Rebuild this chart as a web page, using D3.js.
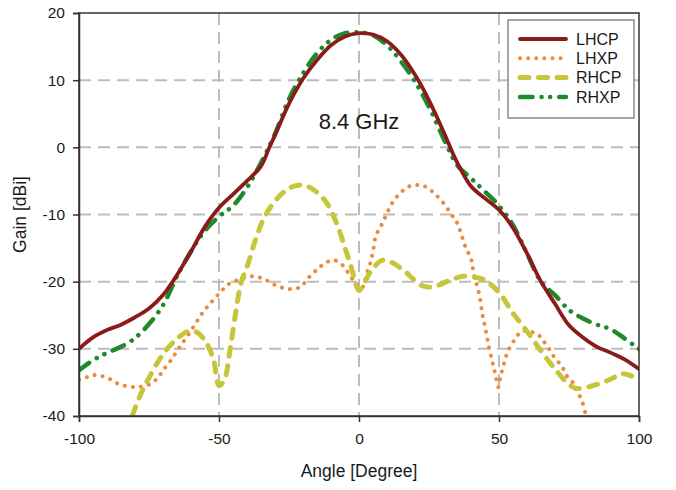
<!DOCTYPE html>
<html><head><meta charset="utf-8">
<script src="https://cdn.jsdelivr.net/npm/d3@7"></script>
<style>
html,body{margin:0;padding:0;background:#fff;}
svg{display:block;font-family:"Liberation Sans",Arial,sans-serif;}
</style></head>
<body><svg id="chart" width="676" height="490"></svg>
<script>
// ---- data (angle in degrees, gain in dBi) ----
const lhcpAngle = [-100,-95,-90,-85,-80,-75,-70,-65,-60,-55,-50,-45,-40,-35,-32,-30,-25,-20,-15,-10,-5,0,5,10,15,20,25,30,35,40,45,50,55,60,65,70,75,80,85,90,95,100];
const lhcpGain  = [-30,-28.3,-27.2,-26.4,-25.3,-24,-22,-19,-15.5,-11.8,-9,-7,-5,-2.8,0,1.8,6.5,10.2,13,15.2,16.5,17,16.8,15.8,13.8,10.8,7,2.5,-2.2,-5.8,-7.6,-9.3,-12,-15.8,-20,-23.3,-26.5,-28.3,-29.7,-30.6,-31.6,-33];

const lhxpAngle = [-100,-97,-94,-90,-86,-80,-75,-72,-70,-67,-64,-60,-56,-53,-50,-47,-43,-38,-34,-30,-25,-21,-18,-15,-12,-9,-6,-4,-2,0,1,2,3,4,5,6,8,10,12,15,18,21,24,27,30,33,35,38,40,41,43,44,45,46,47.5,48.6,49.8,50.4,51.5,52.7,54,56,58,61,64,66,68,70,72.5,74,76.5,78,79.5,81,82];
const lhxpGain  = [-34.6,-34.2,-33.9,-34.3,-35.2,-35.7,-35.3,-34.4,-33.2,-31.6,-29.7,-27.3,-24.7,-23.2,-21.8,-20.5,-19.7,-19.2,-19.6,-20.5,-21.1,-20.8,-19.4,-18.2,-17.2,-16.8,-17.5,-18.6,-19.8,-20.7,-21,-20,-18.5,-17.3,-15.5,-13.2,-11.6,-9.8,-8.2,-6.7,-5.8,-5.6,-5.9,-6.9,-8.2,-10,-11.2,-14.8,-16.6,-18.8,-22,-24.7,-26.7,-28.9,-31.7,-33.6,-35.7,-34.4,-32.6,-30.9,-29.7,-28.4,-27.4,-27.4,-27.9,-28.9,-30.1,-31.4,-32.6,-33.9,-35.1,-36.4,-37.6,-39.8,-41];

const rhcpAngle = [-83,-81,-78,-75,-70,-65,-61,-58,-55,-52,-50,-48,-46,-44,-42,-40,-37,-34,-30,-25,-21,-17,-12,-8,-5,-3,-1,0,1.5,3,5,8.5,12,17,22,26,32,37,42,45,50,55,60,65,70,75,78,85,90,94,97,100];
const rhcpGain  = [-42.5,-40,-36.8,-34.3,-30.8,-28.5,-27.4,-27.5,-28.8,-31.5,-35.5,-34.5,-30,-24.5,-20,-17.8,-13.8,-10.6,-8,-6.1,-5.6,-6.1,-8,-11.3,-15,-17.5,-20.5,-21.3,-20.5,-19.3,-18,-16.8,-17.2,-18.7,-20.5,-20.8,-19.9,-19.2,-19.4,-19.8,-21.6,-24.7,-27.4,-30.3,-33,-35.3,-35.9,-35.3,-34.5,-33.7,-34,-34.6];

const rhxpAngle = [-100,-95,-90,-85,-80,-75,-70,-65,-60,-55,-50,-45,-40,-35,-30,-25,-20,-15,-10,-5,0,5,10,15,20,25,30,35,40,45,50,55,60,65,70,75,80,85,90,95,100];
const rhxpGain  = [-33.2,-31.7,-30.6,-29.7,-28.4,-26.3,-23.5,-19.2,-15.5,-12.4,-10.3,-8.7,-6,-2.3,2,7.2,11,14,16,17,17.1,16.7,15.2,12.8,9.8,6,1.5,-2.6,-4.6,-6.6,-8.7,-11.6,-15.8,-20,-22,-24.2,-25.5,-26.4,-27.1,-28.5,-30];

const seriesNames = ["LHCP","LHXP","RHCP","RHXP"];
const xTicks = [-100,-50,0,50,100];
const yTicks = [20,10,0,-10,-20,-30,-40];
const xTitle = "Angle [Degree]";
const yTitle = "Gain [dBi]";
const annotation = "8.4 GHz";

// ---- styles ----
const styles = {
  LHCP: {color:"#8b1a1a", width:3.8, dash:null, cap:"round"},
  LHXP: {color:"#ef8a3a", width:4, dash:"0.1,8", cap:"round"},
  RHCP: {color:"#c6c63a", width:5, dash:"9,9.5", cap:"round"},
  RHXP: {color:"#1f8a2c", width:4.5, dash:"12.5,9,0.1,8.5,0.1,9", cap:"round"}
};

const svg = d3.select("#chart");
const m = {left:79, top:13, right:37, bottom:74};
const W = 676 - m.left - m.right, H = 490 - m.top - m.bottom;
const x = d3.scaleLinear().domain([-100,100]).range([0,W]);
const y = d3.scaleLinear().domain([-40,20]).range([H,0]);
const g = svg.append("g").attr("transform",`translate(${m.left},${m.top})`);

svg.append("defs").append("clipPath").attr("id","clip")
  .append("rect").attr("width",W).attr("height",H);

// grid
const grid = g.append("g");
grid.selectAll(".gy").data(yTicks.filter(t=>t>-40 && t<20)).join("line")
  .attr("x1",0).attr("x2",W).attr("y1",d=>y(d)).attr("y2",d=>y(d))
  .attr("stroke","#bdbdbd").attr("stroke-width",2).attr("stroke-dasharray","12,7");
grid.selectAll(".gx").data(xTicks.filter(t=>t>-100 && t<100)).join("line")
  .attr("y1",0).attr("y2",H).attr("x1",d=>x(d)).attr("x2",d=>x(d))
  .attr("stroke","#bdbdbd").attr("stroke-width",2).attr("stroke-dasharray","12,7");

// curves
const data = {
  LHCP: lhcpAngle.map((a,i)=>[a,lhcpGain[i]]),
  LHXP: lhxpAngle.map((a,i)=>[a,lhxpGain[i]]),
  RHCP: rhcpAngle.map((a,i)=>[a,rhcpGain[i]]),
  RHXP: rhxpAngle.map((a,i)=>[a,rhxpGain[i]])
};
const line = d3.line().x(d=>x(d[0])).y(d=>y(d[1])).curve(d3.curveCatmullRom.alpha(0.5));
const plot = g.append("g").attr("clip-path","url(#clip)");
["LHXP","RHCP","RHXP","LHCP"].forEach(k=>{
  const s = styles[k];
  plot.append("path").datum(data[k]).attr("d",line)
    .attr("fill","none").attr("stroke",s.color).attr("stroke-width",s.width)
    .attr("stroke-linecap",s.cap).attr("stroke-linejoin","round")
    .attr("stroke-dasharray",s.dash);
});

// frame
g.append("rect").attr("width",W).attr("height",H).attr("fill","none")
  .attr("stroke","#333").attr("stroke-width",1.5);

// axes
const fmt = d => String(d);
const xAxis = g.append("g").attr("transform",`translate(0,${H})`)
  .call(d3.axisBottom(x).tickValues(xTicks).tickSize(6).tickPadding(11).tickFormat(fmt));
const yAxis = g.append("g")
  .call(d3.axisLeft(y).tickValues(yTicks).tickSize(6).tickPadding(8).tickFormat(fmt));
[xAxis,yAxis].forEach(a=>{
  a.select(".domain").attr("stroke","#333").attr("stroke-width",1.5);
  a.selectAll(".tick line").attr("stroke","#333").attr("stroke-width",1.5);
  a.selectAll(".tick text").attr("fill","#1a1a1a").style("font-size","15.5px")
    .style("font-family","'Liberation Sans',Arial,sans-serif");
});
xAxis.selectAll(".tick text").attr("dy","0.71em");

// titles
svg.append("text").attr("x",m.left+W/2).attr("y",477).attr("text-anchor","middle")
  .style("font-size","17.5px").attr("fill","#1a1a1a").text(xTitle);
svg.append("text").attr("transform",`translate(26,${m.top+H/2}) rotate(-90)`)
  .attr("text-anchor","middle").style("font-size","17.5px").attr("fill","#1a1a1a").text(yTitle);

// annotation
g.append("text").attr("x",x(0)).attr("y",y(2.8)).attr("text-anchor","middle")
  .style("font-size","22px").attr("fill","#1a1a1a").text(annotation);

// legend
const lg = svg.append("g").attr("transform","translate(508,20)");
lg.append("rect").attr("width",126).attr("height",98).attr("fill","#fff")
  .attr("stroke","#8a8a8a").attr("stroke-width",1.5);
seriesNames.forEach((k,i)=>{
  const s = styles[k];
  const yy = 19 + i*19.3;
  lg.append("line").attr("x1",12).attr("x2",58).attr("y1",yy).attr("y2",yy)
    .attr("stroke",s.color).attr("stroke-width",s.width).attr("stroke-linecap",s.cap)
    .attr("stroke-dasharray",s.dash);
  lg.append("text").attr("x",68).attr("y",yy).attr("dy","0.36em")
    .style("font-size","16px").attr("fill","#1a1a1a").text(k);
});
</script></body></html>
